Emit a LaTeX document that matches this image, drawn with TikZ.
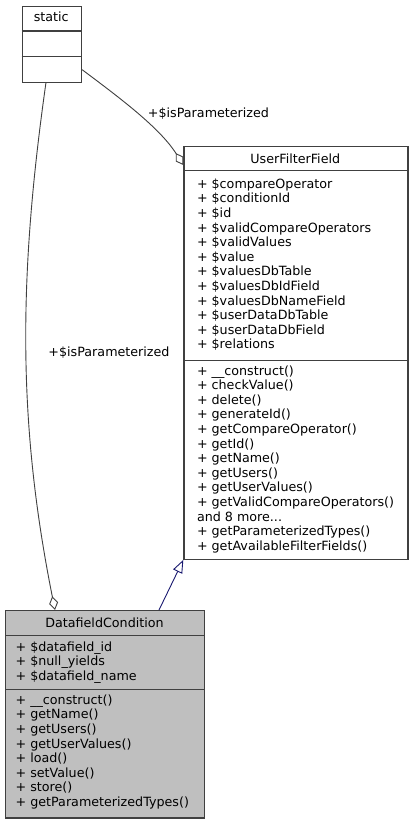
\documentclass[tikz,border=0pt]{standalone}
\usepackage{fontspec}
\setmainfont{DejaVu Sans}
\usetikzlibrary{arrows.meta}
\definecolor{edgegray}{HTML}{404040}
\definecolor{boxgray}{HTML}{BFBFBF}
\definecolor{inhblue}{HTML}{191970}
\newcommand{\umlfont}{\fontsize{12.7}{14.6}\selectfont}

\begin{document}
\begin{tikzpicture}[
  x=1pt, y=-1pt,
  classbox/.style={
    draw=edgegray, line width=1.4pt, fill=#1, anchor=north west,
    inner sep=0pt
  },
  classbox/.default=white,
  sepline/.style={draw=edgegray, line width=1.4pt},
  title/.style={anchor=base, inner sep=0pt, font=\umlfont},
  member/.style={anchor=north west, align=left, inner sep=0pt, font=\umlfont},
  elabel/.style={anchor=base, inner sep=0pt, font=\umlfont},
  assoc/.style={draw=edgegray, line width=0.9pt,
    -{Diamond[open, length=14pt, width=9pt]}},
  inherit/.style={draw=inhblue, line width=0.9pt,
    -{Triangle[open, length=13pt, width=10pt]}},
]

% Background
\fill[white] (0,0) rectangle (412,824);
\useasboundingbox (0,0) rectangle (412,824);

% ===== Classes =====

% static
\node[classbox, minimum width=59pt, minimum height=76pt] (static) at (21.7,5.7) {};
\draw[sepline] ([shift={(0,25.3)}]static.north west) -- ([shift={(0,25.3)}]static.north east);
\draw[sepline] ([shift={(0,51)}]static.north west) -- ([shift={(0,51)}]static.north east);
\node[title] (static-name) at (51.2,22) {static};

% UserFilterField
\node[classbox, minimum width=224pt, minimum height=412.5pt] (uff) at (183.3,146) {};
\draw[sepline] ([shift={(0,24.7)}]uff.north west) -- ([shift={(0,24.7)}]uff.north east);
\draw[sepline] ([shift={(0,214.7)}]uff.north west) -- ([shift={(0,214.7)}]uff.north east);
\node[title] (uff-name) at (295.3,163) {UserFilterField};
\node[member] (uff-attr) at (196.8,177.8)
  {\strut+ \$compareOperator\\
   + \$conditionId\\
   + \$id\\
   + \$validCompareOperators\\
   + \$validValues\\
   + \$value\\
   + \$valuesDbTable\\
   + \$valuesDbIdField\\
   + \$valuesDbNameField\\
   + \$userDataDbTable\\
   + \$userDataDbField\\
   + \$relations};
\node[member] (uff-op) at (196.8,364.6)
  {\strut+ \_\_construct()\\
   + checkValue()\\
   + delete()\\
   + generateId()\\
   + getCompareOperator()\\
   + getId()\\
   + getName()\\
   + getUsers()\\
   + getUserValues()\\
   + getValidCompareOperators()\\
   and 8 more...\\
   + getParameterizedTypes()\\
   + getAvailableFilterFields()};

% DatafieldCondition
\node[classbox=boxgray, minimum width=199pt, minimum height=207.3pt] (dc) at (5,610) {};
\draw[sepline] ([shift={(0,25.7)}]dc.north west) -- ([shift={(0,25.7)}]dc.north east);
\draw[sepline] ([shift={(0,79.5)}]dc.north west) -- ([shift={(0,79.5)}]dc.north east);
\node[title] (dc-name) at (104.5,627.5) {DatafieldCondition};
\node[member] (dc-attr) at (15.4,640.8)
  {\strut+ \$datafield\_id\\
   + \$null\_yields\\
   + \$datafield\_name};
\node[member] (dc-op) at (15.4,693.8)
  {\strut+ \_\_construct()\\
   + getName()\\
   + getUsers()\\
   + getUserValues()\\
   + load()\\
   + setValue()\\
   + store()\\
   + getParameterizedTypes()};

% ===== Connectors =====
\draw[assoc] ([shift={(0,-13.4)}]static.south east)
  .. controls (120,98) and (160,128) .. ([shift={(0,19)}]uff.north west);
\node[elabel] (lbl-uff) at (208.5,117.5) {+\$isParameterized};

\draw[assoc] ([shift={(-6,0)}]static.south)
  .. controls (18,280) and (18,425) .. ([shift={(50,0)}]dc.north west);
\node[elabel] (lbl-dc) at (109,356) {+\$isParameterized};

\draw[inherit] ([shift={(154,0)}]dc.north west) -- (uff.south west);

\end{tikzpicture}
\end{document}
